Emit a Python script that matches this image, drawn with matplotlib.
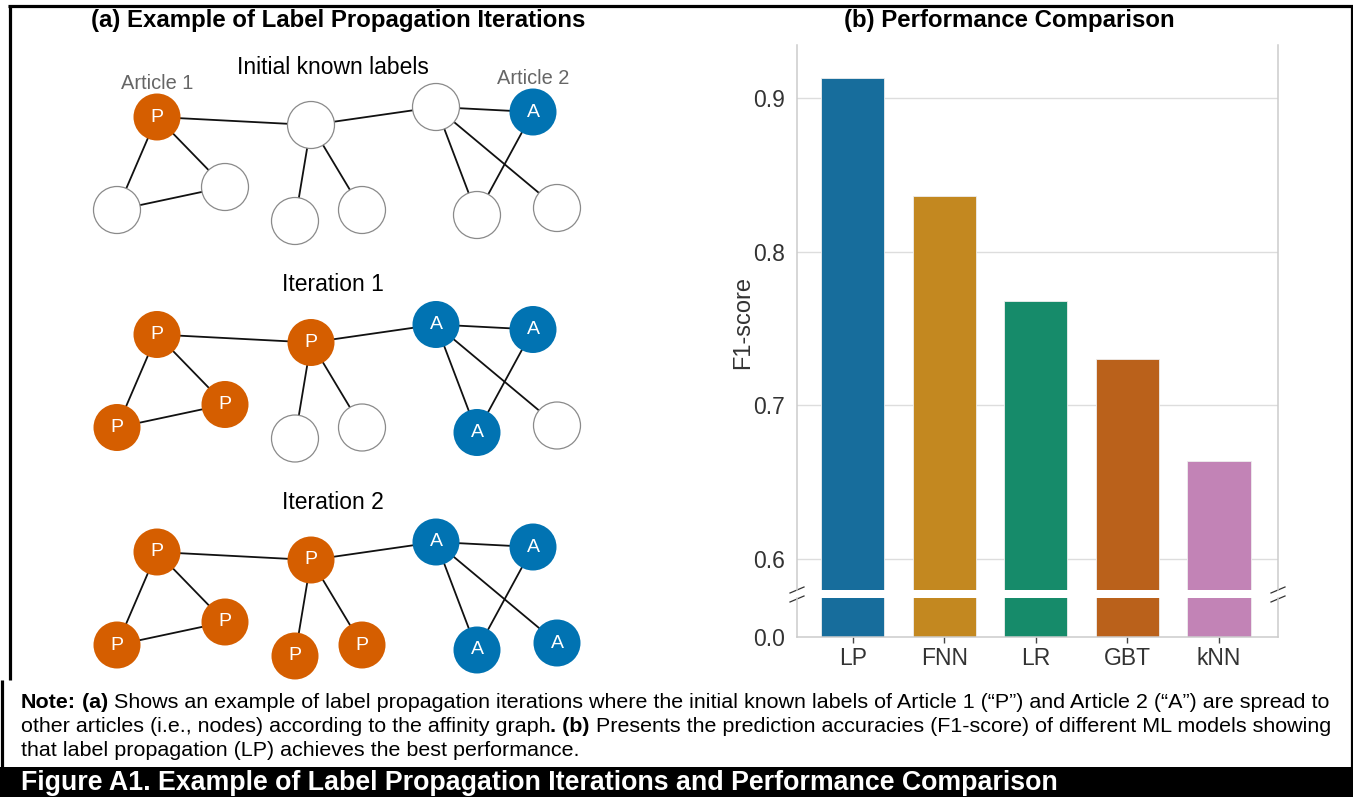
import matplotlib
matplotlib.use("Agg")
import matplotlib.pyplot as plt
from matplotlib.patches import Circle, Rectangle

plt.rcParams['font.family'] = ['Liberation Sans', 'DejaVu Sans']

W, H = 1353, 797

# ---- affinity graph used in panel (a) ----
node_x = [157, 117, 225, 311, 295, 362, 436, 533, 477, 557]
node_y = [117, 210, 187, 125, 221, 210, 107, 112, 215, 208]
edges = [(0, 1), (0, 2), (1, 2), (0, 3), (3, 4), (3, 5), (3, 6),
         (6, 7), (6, 8), (6, 9), (7, 8)]
iteration_titles = ["Initial known labels", "Iteration 1", "Iteration 2"]
iteration_states = [
    ["P", "", "", "", "", "", "", "A", "", ""],
    ["P", "P", "P", "P", "", "", "A", "A", "A", ""],
    ["P", "P", "P", "P", "P", "P", "A", "A", "A", "A"],
]
article_names = {0: "Article 1", 7: "Article 2"}
label_colors = {"P": "#D55E00", "A": "#0173B2"}

# ---- panel (b) results ----
models = ["LP", "FNN", "LR", "GBT", "kNN"]
f1_scores = [0.913, 0.836, 0.768, 0.730, 0.664]
bar_colors = ["#176d9c", "#c38820", "#168b6a", "#ba611b", "#c283b6"]
upper_ticks = [0.6, 0.7, 0.8, 0.9]
lower_ticks = [0.0]

fig = plt.figure(figsize=(W / 100, H / 100), dpi=100)

# full-figure canvas in pixel units (y grows downward)
canvas = fig.add_axes([0, 0, 1, 1])
canvas.set_xlim(0, W)
canvas.set_ylim(H, 0)
canvas.axis('off')

# frame and caption bar
canvas.plot([8, W], [6, 6], color='black', lw=2.3, solid_capstyle='butt')
canvas.plot([9.5, 9.5], [5, 680], color='black', lw=2.3, solid_capstyle='butt')
canvas.plot([W - 1.5, W - 1.5], [5, 767], color='black', lw=2.3, solid_capstyle='butt')
canvas.plot([1.5, 1.5], [680, 767], color='black', lw=2.3, solid_capstyle='butt')
canvas.add_patch(Rectangle((0, 767), W, H - 767, color='black', lw=0))

# panel titles
canvas.text(338, 20, "(a) Example of Label Propagation Iterations", fontsize=17.3,
            fontweight='bold', ha='center', va='center')
canvas.text(1009, 20, "(b) Performance Comparison", fontsize=17.3,
            fontweight='bold', ha='center', va='center')

# ---- panel (a): three snapshots of the graph ----
step = 217.5
radius = 23.5
for k, (title, state) in enumerate(zip(iteration_titles, iteration_states)):
    dy = k * step
    canvas.text(333, 67 + dy, title, fontsize=16.5, ha='center', va='center')
    for a, b in edges:
        canvas.plot([node_x[a], node_x[b]], [node_y[a] + dy, node_y[b] + dy],
                    color='#111111', lw=1.3, zorder=2)
    for i, lab in enumerate(state):
        cx, cy = node_x[i], node_y[i] + dy
        if lab:
            canvas.add_patch(Circle((cx, cy), radius, facecolor=label_colors[lab],
                                    edgecolor='none', zorder=3))
            canvas.text(cx, cy, lab, color='white', fontsize=14, ha='center',
                        va='center', zorder=4)
        else:
            canvas.add_patch(Circle((cx, cy), radius, facecolor='white',
                                    edgecolor='#8a8a8a', lw=0.9, zorder=3))
    if k == 0:
        for i, name in article_names.items():
            canvas.text(node_x[i], node_y[i] - 34, name, color='#666666',
                        fontsize=14.4, ha='center', va='center')

# ---- panel (b): bar chart with a broken y axis ----
x_left, x_right = 797, 1278
top_y0, top_y1 = 45, 590
bot_y0, bot_y1 = 598, 637
ax_top = fig.add_axes([x_left / W, 1 - top_y1 / H, (x_right - x_left) / W,
                       (top_y1 - top_y0) / H])
ax_bot = fig.add_axes([x_left / W, 1 - bot_y1 / H, (x_right - x_left) / W,
                       (bot_y1 - bot_y0) / H])
pos = list(range(len(models)))
for ax in (ax_top, ax_bot):
    ax.set_facecolor('none')
    ax.bar(pos, f1_scores, width=0.69, color=bar_colors, edgecolor='#eeeeee',
           linewidth=0.6, zorder=2)
    ax.set_xlim(-0.61, 4.645)
    for side in ('left', 'right', 'bottom'):
        ax.spines[side].set_color('#cccccc')
        ax.spines[side].set_linewidth(1.1)
    ax.spines['top'].set_visible(False)
    ax.tick_params(axis='y', length=0, pad=9, labelsize=16.5, labelcolor='#333333')

ax_top.set_ylim(0.5798, 0.9345)
ax_top.spines['bottom'].set_visible(False)
ax_top.set_yticks(upper_ticks)
ax_top.set_yticklabels([f"{t:.1f}" for t in upper_ticks])
ax_top.set_xticks([])
ax_top.yaxis.grid(True, color='#dddddd', lw=1.0, zorder=0)
ax_top.set_axisbelow(True)

ax_bot.set_ylim(0, 0.05)
ax_bot.set_yticks(lower_ticks)
ax_bot.set_yticklabels([f"{t:.1f}" for t in lower_ticks])
ax_bot.set_xticks(pos)
ax_bot.set_xticklabels(models)
ax_bot.tick_params(axis='x', length=4, width=1, color='#444444', pad=3,
                   labelsize=16.5, labelcolor='#333333')

# break marks on both sides of the gap
for sx in (x_left, x_right):
    canvas.plot([sx - 7, sx + 7], [593, 587], color='#333333', lw=0.9)
    canvas.plot([sx - 7, sx + 7], [602, 596], color='#333333', lw=0.9)

canvas.text(743, 322, "F1-score", rotation=90, fontsize=17, color='#333333',
            ha='center', va='center')

# ---- note below the panels ----
renderer = fig.canvas.get_renderer()


def rich_line(x, y, parts, size=15.45):
    for s, weight in parts:
        t = canvas.text(x, y, s, fontsize=size, fontweight=weight,
                        ha='left', va='center')
        x += t.get_window_extent(renderer=renderer).width


rich_line(21, 703, [("Note:", 'bold'), (" (a)", 'bold'),
                    (" Shows an example of label propagation iterations where the initial "
                     "known labels of Article 1 (\u201cP\u201d) and Article 2 (\u201cA\u201d) "
                     "are spread to", 'normal')])
rich_line(21, 727, [("other articles (i.e., nodes) according to the affinity graph", 'normal'),
                    (". (b)", 'bold'),
                    (" Presents the prediction accuracies (F1-score) of different ML models "
                     "showing", 'normal')])
rich_line(21, 750, [("that label propagation (LP) achieves the best performance.", 'normal')])

canvas.text(21, 783, "Figure A1. Example of Label Propagation Iterations and Performance "
            "Comparison", color='white', fontsize=19.3, fontweight='bold',
            ha='left', va='center')

fig.savefig("out.png", dpi=100)
